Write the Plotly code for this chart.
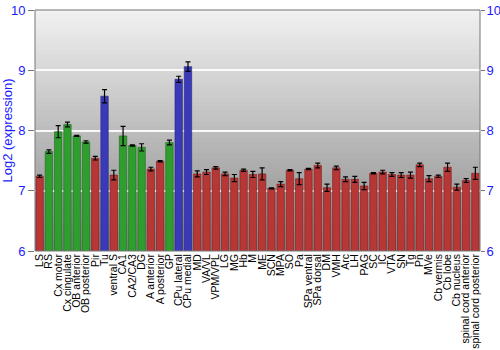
import plotly.graph_objects as go

categories = ["LS", "RS", "Cx motor", "Cx cingulate", "OB anterior", "OB posterior", "Pir", "Tu",
              "ventral S", "CA1", "CA2/CA3", "DG", "A anterior", "A posterior", "GP", "CPu lateral",
              "CPu medial", "MD", "VA/VL", "VPM/VPL", "LG", "MG", "Hb", "M", "ME", "SCN", "MPA", "SO",
              "Pa", "SPa ventral", "SPa dorsal", "DM", "VMH", "Arc", "LH", "PAG", "SC", "IC", "VTA",
              "SN", "Tg", "Pn", "MVe", "Cb vermis", "Cb lobe", "Cb nucleus", "spinal cord anterior",
              "spinal cord posterior"]
values = [7.24, 7.65, 7.98, 8.10, 7.91, 7.81, 7.54, 8.57,
          7.26, 7.91, 7.75, 7.72, 7.36, 7.49, 7.80, 8.85,
          9.06, 7.28, 7.31, 7.38, 7.28, 7.21, 7.34, 7.27, 7.28, 7.04, 7.11, 7.34,
          7.20, 7.36, 7.42, 7.05, 7.38, 7.19, 7.19, 7.08, 7.29, 7.31, 7.27,
          7.26, 7.26, 7.43, 7.20, 7.24, 7.39, 7.06, 7.17, 7.29]
errors = [0.02, 0.03, 0.10, 0.04, 0.01, 0.02, 0.03, 0.11,
          0.08, 0.16, 0.01, 0.06, 0.03, 0.01, 0.04, 0.05,
          0.08, 0.05, 0.04, 0.02, 0.03, 0.06, 0.02, 0.05, 0.10, 0.01, 0.04, 0.01,
          0.10, 0.01, 0.04, 0.06, 0.03, 0.04, 0.05, 0.06, 0.01, 0.03, 0.03,
          0.04, 0.05, 0.03, 0.05, 0.02, 0.07, 0.05, 0.03, 0.10]
groups = ["r", "g", "g", "g", "g", "g", "r", "b",
          "r", "g", "g", "g", "r", "r", "g", "b",
          "b"] + ["r"] * 31
y_ticks = [6, 7, 8, 9, 10]

color_map = {"r": "#b73636", "g": "#2f9e2f", "b": "#3a3ab8"}
edge_map = {"r": "#7a1e1e", "g": "#1d6a1d", "b": "#24247a"}
colors = [color_map[g] for g in groups]
edges = [edge_map[g] for g in groups]

fig = go.Figure()
fig.add_trace(go.Bar(
    x=categories, y=values,
    marker=dict(color=colors, line=dict(color=edges, width=0.6)),
    error_y=dict(type="data", array=errors, color="black", thickness=1.2, width=2.5),
    width=0.8, showlegend=False,
))
# invisible trace to render the right axis
fig.add_trace(go.Scatter(x=[categories[0]], y=[6], yaxis="y2", mode="markers",
                         marker=dict(opacity=0), showlegend=False, hoverinfo="skip"))

# background gradient
shapes = []
n = 60
top = (0xf2, 0xf2, 0xf2)
bot = (0x88, 0x88, 0x88)
for i in range(n):
    t = i / n
    c = tuple(int(top[k] + (bot[k] - top[k]) * (t + 0.5 / n)) for k in range(3))
    shapes.append(dict(type="rect", xref="paper", yref="paper", x0=0, x1=1,
                       y0=1 - (i + 1) / n, y1=1 - i / n + 0.002, layer="below",
                       line=dict(width=0), fillcolor="rgb(%d,%d,%d)" % c))
shapes.append(dict(type="rect", xref="paper", yref="paper", x0=0, x1=1, y0=0, y1=1,
                   layer="above", line=dict(color="#777777", width=1), fillcolor="rgba(0,0,0,0)"))

fig.update_layout(
    width=500, height=350,
    margin=dict(l=35, r=20, t=10, b=99),
    paper_bgcolor="white", plot_bgcolor="#bbbbbb",
    font=dict(family="Liberation Sans, Arial, sans-serif", size=10, color="black"),
    bargap=0.2,
    shapes=shapes,
    xaxis=dict(tickangle=-90, tickfont=dict(size=10.5, color="black"), showgrid=False,
               tickmode="array", tickvals=categories, ticktext=categories,
               ticks="", showline=False, range=[-0.5, len(categories) - 0.5], automargin=False),
    yaxis=dict(range=[6, 10], tickvals=y_ticks, ticks="outside", ticklen=6,
               tickcolor="#777777", tickfont=dict(size=13, color="#1a1aff"),
               showgrid=True, gridcolor="rgba(255,255,255,0.9)", gridwidth=1.5,
               title=dict(text="Log2 (expression)", font=dict(size=13, color="#1a1aff"), standoff=2),
               zeroline=False, showline=False, automargin=False),
    yaxis2=dict(range=[6, 10], tickvals=y_ticks, overlaying="y", side="right",
                ticks="outside", ticklen=4, tickcolor="#777777", ticklabelstandoff=-1,
                tickfont=dict(size=13, color="#1a1aff"), showgrid=False, zeroline=False,
                automargin=False),
)

fig.write_html("out.html")
